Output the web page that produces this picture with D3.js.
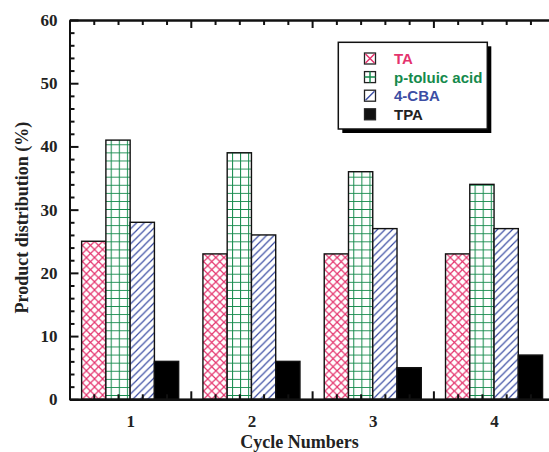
<!DOCTYPE html>
<html>
<head>
<meta charset="utf-8">
<script src="https://cdn.jsdelivr.net/npm/d3@7"></script>
<style>
  body { margin: 0; background: #fff; }
  .tick text { font-family: "Liberation Serif", "Times New Roman", serif; font-weight: bold; font-size: 17px; fill: #222; }
  .axisText { font-family: "Liberation Serif", "Times New Roman", serif; font-weight: bold; font-size: 18px; fill: #222; }
  .legendText { font-family: "Liberation Sans", Arial, sans-serif; font-weight: bold; font-size: 15px; }
</style>
</head>
<body>
<script>
// chart values
var cycles = [1, 2, 3, 4];
var seriesNames = ["TA", "p-toluic acid", "4-CBA", "TPA"];
var taValues = [25, 23, 23, 23];
var pToluicValues = [41, 39, 36, 34];
var cbaValues = [28, 26, 27, 27];
var tpaValues = [6, 6, 5, 7];
var yTickLabels = [0, 10, 20, 30, 40, 50, 60];

var svgWidth = 549;
var svgHeight = 452;

var margin = { top: 20, left: 69.5 };
var width = 485.2;
var height = 379.3;

var colors = ["#e4336d", "#158a4c", "#3c4ea4", "#000000"];

var svg = d3.select("body")
  .append("svg")
  .attr("width", svgWidth)
  .attr("height", svgHeight);

var chartGroup = svg.append("g")
  .attr("transform", `translate(${margin.left}, ${margin.top})`);

var xScale = d3.scaleLinear().domain([0.5, 4.5]).range([0, width]);
var yScale = d3.scaleLinear().domain([0, 60]).range([height, 0]);

var step = xScale(1) - xScale(0.8);   // width of one bar (0.2 units)

// hatch patterns
var defs = svg.append("defs");

// TA: pink crosshatch
var c = step / 3;
var p1 = defs.append("pattern").attr("id", "pat0")
  .attr("patternUnits", "userSpaceOnUse").attr("width", c).attr("height", c)
  .attr("x", margin.left + xScale(0.6)).attr("y", margin.top + yScale(0));
p1.append("rect").attr("width", c).attr("height", c).attr("fill", "#fff");
p1.append("path").attr("d", `M0,0L${c},${c}M${c},0L0,${c}`)
  .attr("stroke", colors[0]).attr("stroke-width", 1.2);

// p-toluic acid: green grid
var g = step / 3;
var p2 = defs.append("pattern").attr("id", "pat1")
  .attr("patternUnits", "userSpaceOnUse").attr("width", g).attr("height", g)
  .attr("x", margin.left + xScale(0.8)).attr("y", margin.top + yScale(0));
p2.append("rect").attr("width", g).attr("height", g).attr("fill", "#fff");
p2.append("path").attr("d", `M0,0V${g}M0,0H${g}`)
  .attr("stroke", colors[1]).attr("stroke-width", 2);

// 4-CBA: blue diagonal
var d = 7.5;
var p3 = defs.append("pattern").attr("id", "pat2")
  .attr("patternUnits", "userSpaceOnUse").attr("width", d).attr("height", d);
p3.append("rect").attr("width", d).attr("height", d).attr("fill", "#fff");
p3.append("path").attr("d", `M0,${d}L${d},0M${-d / 2},${d / 2}L${d / 2},${-d / 2}M${d / 2},${d * 1.5}L${d * 1.5},${d / 2}`)
  .attr("stroke", colors[2]).attr("stroke-width", 1.2);

var fills = ["url(#pat0)", "url(#pat1)", "url(#pat2)", "#000"];
var allValues = [taValues, pToluicValues, cbaValues, tpaValues];

// bars
allValues.forEach(function(values, s) {
  chartGroup.selectAll(".bar" + s)
    .data(values)
    .enter()
    .append("rect")
    .attr("x", (v, i) => xScale(cycles[i] - 0.4 + s * 0.2))
    .attr("width", step)
    .attr("y", v => yScale(v))
    .attr("height", v => yScale(0) - yScale(v))
    .attr("fill", fills[s])
    .attr("stroke", "#111")
    .attr("stroke-width", 1.4);
});

// axes
var minorX = d3.range(0, 21).map(i => 0.5 + i * 0.2).filter((v, i) => i % 5 != 0);
var majorX = [1.5, 2.5, 3.5];
var minorY = d3.range(0, 61, 2).filter(v => v % 10 != 0);

function styleAxis(a) {
  a.selectAll("path, line").attr("stroke", "#111").attr("stroke-width", 2);
}

chartGroup.append("g").attr("transform", `translate(0, ${height})`)
  .call(d3.axisBottom(xScale).tickValues(minorX).tickSize(-5).tickSizeOuter(0).tickFormat(""))
  .call(styleAxis);
chartGroup.append("g").attr("transform", `translate(0, ${height})`)
  .call(d3.axisBottom(xScale).tickValues(majorX).tickSize(-8).tickSizeOuter(0).tickFormat(""))
  .call(styleAxis);
chartGroup.append("g").attr("transform", `translate(0, ${height})`)
  .call(d3.axisBottom(xScale).tickValues(cycles).tickSize(0).tickSizeOuter(0).tickPadding(16).tickFormat(d3.format("d")))
  .call(styleAxis);

chartGroup.append("g")
  .call(d3.axisTop(xScale).tickValues(minorX).tickSize(-5).tickSizeOuter(0).tickFormat(""))
  .call(styleAxis);
chartGroup.append("g")
  .call(d3.axisTop(xScale).tickValues(majorX).tickSize(-8).tickSizeOuter(0).tickFormat(""))
  .call(styleAxis);

chartGroup.append("g")
  .call(d3.axisLeft(yScale).tickValues(minorY).tickSize(-5).tickSizeOuter(0).tickFormat(""))
  .call(styleAxis);
chartGroup.append("g")
  .call(d3.axisLeft(yScale).tickValues(yTickLabels).tickSize(-9).tickSizeOuter(0).tickPadding(12))
  .call(styleAxis);
chartGroup.selectAll(".tick text").attr("fill", "#222");

// axis titles
chartGroup.append("text")
  .attr("transform", "rotate(-90)")
  .attr("y", 0 - margin.left + 28)
  .attr("x", 0 - (height / 2) - 8)
  .attr("text-anchor", "middle")
  .attr("class", "axisText")
  .text("Product distribution (%)");

chartGroup.append("text")
  .attr("x", 230)
  .attr("y", height + 49)
  .attr("text-anchor", "middle")
  .attr("class", "axisText")
  .text("Cycle Numbers");

// legend
var lx = 338.3, ly = 42.3, lw = 149, lh = 86.7;
svg.append("rect").attr("x", lx + 4).attr("y", ly + 4).attr("width", lw).attr("height", lh).attr("fill", "#000");
svg.append("rect").attr("x", lx).attr("y", ly).attr("width", lw).attr("height", lh)
  .attr("fill", "#fff").attr("stroke", "#111").attr("stroke-width", 1.5);

var legend = svg.selectAll(".legendItem")
  .data(seriesNames)
  .enter()
  .append("g")
  .attr("transform", (n, i) => `translate(364.5, ${58.5 + i * 18.6})`);

var sz = 11;
legend.append("rect")
  .attr("x", 0).attr("y", -sz / 2).attr("width", sz).attr("height", sz)
  .attr("fill", (n, i) => i == 3 ? "#111" : "#fff")
  .attr("stroke", "#222").attr("stroke-width", 1.3);
legend.append("path")
  .attr("d", function(n, i) {
    var h = sz / 2;
    if (i == 0) return `M1,${-h + 1}L${sz - 1},${h - 1}M${sz - 1},${-h + 1}L1,${h - 1}`;
    if (i == 1) return `M${h},${-h}V${h}M0,0H${sz}`;
    if (i == 2) return `M1,${h - 1}L${sz - 1},${-h + 1}`;
    return "";
  })
  .attr("stroke", (n, i) => colors[i])
  .attr("stroke-width", 1.5);

legend.append("text")
  .attr("x", 29.5)
  .attr("y", 5.5)
  .attr("class", "legendText")
  .attr("fill", (n, i) => i == 3 ? "#222" : colors[i])
  .text(n => n);
</script>
</body>
</html>
